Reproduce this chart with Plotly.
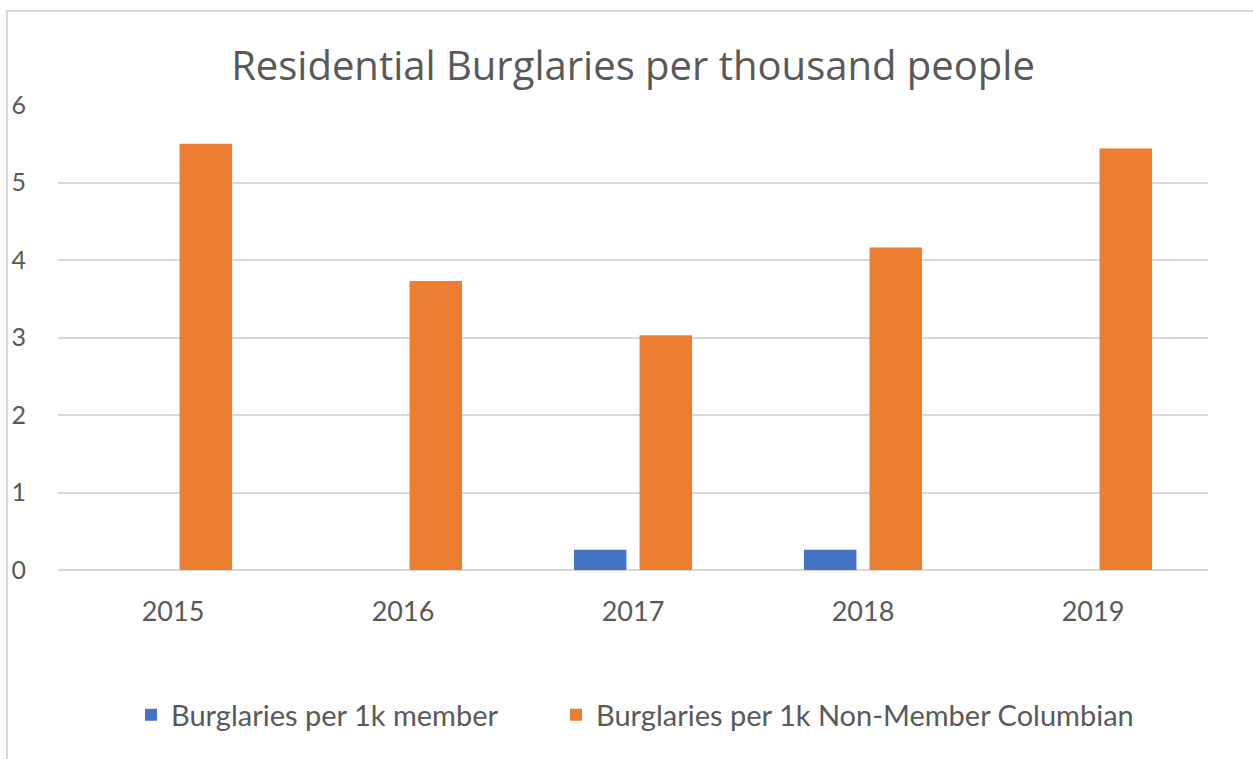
import plotly.graph_objects as go

years = ["2015", "2016", "2017", "2018", "2019"]
member = [0, 0, 0.26, 0.26, 0]
non_member = [5.50, 3.73, 3.03, 4.16, 5.44]
series_names = ["Burglaries per 1k member", "Burglaries per 1k Non-Member Columbian"]
colors = ["#4472C4", "#ED7D31"]
title_text = "Residential Burglaries per thousand people"
y_ticks = [0, 1, 2, 3, 4, 5, 6]

W, H = 1253, 759
L, R, T, B = 58, 45, 105, 189
pw, ph = W - L - R, H - T - B

fig = go.Figure()
legend_ids = ["legend", "legend2"]
for name, vals, col, lg in zip(series_names, [member, non_member], colors, legend_ids):
    fig.add_trace(go.Bar(x=years, y=vals, name=name, legend=lg,
                         marker=dict(color=col, line=dict(width=0))))

text_col = "#595959"
leg_font = dict(size=29, color=text_col, family="Lato")
leg_y = (570 - 715) / ph
fig.update_layout(
    width=W, height=H,
    margin=dict(l=L, r=R, t=T, b=B, autoexpand=False),
    paper_bgcolor="white", plot_bgcolor="white",
    barmode="group", bargap=0.43, bargroupgap=0.2,
    title=dict(text=title_text, x=0.5, xref="paper", xanchor="center",
               y=1 - 66 / H, yanchor="middle", yref="container",
               font=dict(family="Open Sans", size=40, color=text_col)),
    font=dict(family="Lato", color=text_col),
    xaxis=dict(showgrid=False, showline=False, zeroline=False, ticks="",
               ticklabelstandoff=23, tickfont=dict(size=27, color=text_col, family="Lato")),
    yaxis=dict(range=[0, 6], tickvals=y_ticks, showgrid=True, gridcolor="#d9d9d9", gridwidth=2,
               zeroline=True, zerolinecolor="#d9d9d9", zerolinewidth=2, showline=False,
               ticks="", ticklabelstandoff=31,
               tickfont=dict(size=25, color=text_col, family="Lato")),
    legend=dict(orientation="h", x=(131 - L) / pw, xanchor="left", y=leg_y, yanchor="middle",
                font=leg_font, bgcolor="rgba(0,0,0,0)"),
    legend2=dict(orientation="h", x=(556 - L) / pw, xanchor="left", y=leg_y, yanchor="middle",
                 font=leg_font, bgcolor="rgba(0,0,0,0)"),
    showlegend=True,
)

# outer chart border
fig.add_shape(type="rect", xref="paper", yref="paper",
              x0=(7 - L) / pw, x1=(1270 - L) / pw,
              y0=(570 - 780) / ph, y1=(570 - 11) / ph,
              line=dict(color="#d9d9d9", width=2), fillcolor="rgba(0,0,0,0)", layer="below")

fig.write_html("out.html", config={"displayModeBar": False},
               post_script="document.body.style.margin='0';document.body.style.overflow='hidden';")
